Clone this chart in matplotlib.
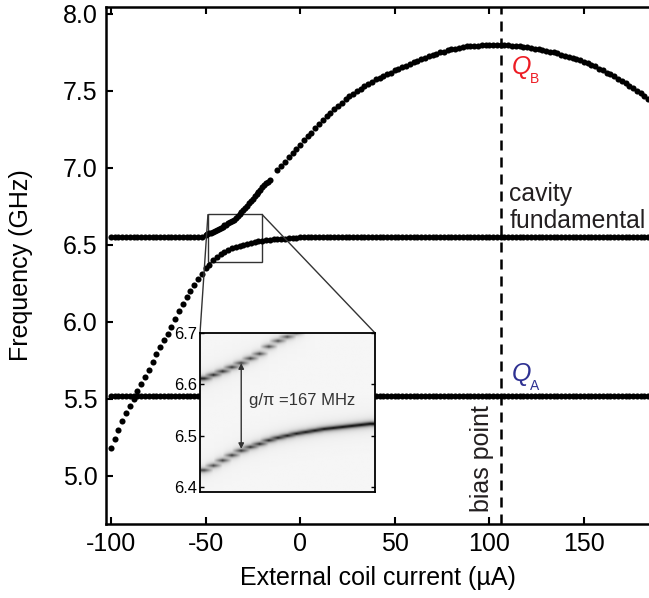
import numpy as np
import matplotlib
matplotlib.use('Agg')
import matplotlib.pyplot as plt
from mpl_toolkits.axes_grid1.inset_locator import mark_inset

plt.rcParams['font.family'] = ['Liberation Sans', 'DejaVu Sans']
plt.rcParams['axes.unicode_minus'] = False

# ---- data -------------------------------------------------------------
cavity_f = 6.55      # cavity fundamental (GHz)
qa_f = 5.52          # qubit A (GHz), flat over the sweep
bias_point = 106     # uA

# coil current sweep for qubit A, 2 uA steps
qa_x = np.arange(-100, 186, 2)

# lower branch: qubit B below the cavity, -100 .. -2 uA
lower_x = np.arange(-100, 0, 2)
lower_f = [5.18, 5.24, 5.30, 5.36, 5.41, 5.455, 5.50, 5.55, 5.60, 5.645,
           5.69, 5.74, 5.79, 5.84, 5.88, 5.925, 5.97, 6.02, 6.07, 6.12,
           6.16, 6.20, 6.24, 6.28, 6.31, 6.35, 6.37, 6.40, 6.42, 6.44,
           6.455, 6.468, 6.478, 6.488, 6.496, 6.503, 6.509, 6.514, 6.519, 6.523,
           6.527, 6.530, 6.533, 6.536, 6.538, 6.540, 6.542, 6.544, 6.546, 6.548]
# lower branch continues as the cavity from 0 uA on
lower_cav_x = np.arange(0, 186, 2)

# upper branch: cavity on the left side
upper_cav_x = np.arange(-100, -50, 2)
# upper branch through the anticrossing, 1 uA steps
upper_fine_x = np.arange(-50, -15, 1)
upper_fine_f = [6.565, 6.570, 6.575, 6.580, 6.587, 6.593, 6.600, 6.607, 6.613, 6.620,
                6.627, 6.633, 6.640, 6.648, 6.657, 6.665, 6.675, 6.688, 6.700, 6.713,
                6.727, 6.740, 6.755, 6.770, 6.785, 6.800, 6.815, 6.830, 6.845, 6.860,
                6.875, 6.888, 6.900, 6.912, 6.925]
# upper branch: qubit B above the cavity
upper_x = np.arange(-12, 186, 2)
upper_f = [6.985, 7.01, 7.04, 7.07, 7.10, 7.125, 7.15,
           7.18, 7.205, 7.23, 7.26, 7.285, 7.31, 7.335, 7.36, 7.38, 7.405,
           7.425, 7.445, 7.465, 7.48, 7.50, 7.515, 7.53, 7.545, 7.56, 7.575,
           7.585, 7.60, 7.61, 7.62, 7.635, 7.645, 7.655, 7.665, 7.675, 7.685,
           7.695, 7.705, 7.715, 7.725, 7.735, 7.74, 7.75, 7.755, 7.765, 7.77,
           7.775, 7.78, 7.785, 7.79, 7.79, 7.795, 7.795, 7.80, 7.80, 7.80,
           7.80, 7.80, 7.80, 7.80, 7.80, 7.795, 7.795, 7.79, 7.785, 7.785,
           7.78, 7.775, 7.77, 7.765, 7.76, 7.755, 7.75, 7.745, 7.735, 7.73,
           7.72, 7.715, 7.705, 7.70, 7.69, 7.68, 7.67, 7.66, 7.645, 7.635,
           7.62, 7.61, 7.595, 7.58, 7.565, 7.55, 7.535, 7.52, 7.50, 7.485,
           7.465, 7.45]

# transmission map around the anticrossing (one column per current step)
inset_x = np.arange(-48, -20, 1.5)
inset_upper = [6.610, 6.617, 6.624, 6.632, 6.640, 6.649, 6.658, 6.672, 6.683, 6.691,
               6.699, 6.712, 6.730, 6.750, 6.770, 6.790, 6.810, 6.840, 6.860]
inset_lower = [6.432, 6.441, 6.451, 6.461, 6.470, 6.477, 6.483, 6.490, 6.495, 6.499,
               6.503, 6.506, 6.509, 6.512, 6.514, 6.516, 6.518, 6.520, 6.522]
splitting = 0.167    # g/pi in GHz
arrow_x = -42
arrow_low = 6.474

yticks = [5.0, 5.5, 6.0, 6.5, 7.0, 7.5, 8.0]
xticks = [-100, -50, 0, 50, 100, 150]
inset_yticks = [6.4, 6.5, 6.6, 6.7]

# ---- figure -------------------------------------------------------------
fig = plt.figure(figsize=(6.49, 5.98), dpi=100)
ax = fig.add_axes([0.1633, 0.1237, 0.8367, 0.8645])

dot = dict(ls='none', marker='o', ms=4.4, color='k', mec='none')
ax.plot(qa_x, np.full(len(qa_x), qa_f), **dot)
ax.plot(lower_x, lower_f, **dot)
ax.plot(lower_cav_x, np.full(len(lower_cav_x), cavity_f), **dot)
ax.plot(upper_cav_x, np.full(len(upper_cav_x), cavity_f), **dot)
ax.plot(upper_fine_x, upper_fine_f, **dot)
ax.plot(upper_x, upper_f, **dot)

ax.axvline(bias_point, color='k', lw=1.8, dashes=(4, 2.8), zorder=1)

ax.set_xlim(-102.6, 184.4)
ax.set_ylim(4.688, 8.045)
ax.set_xticks(xticks)
ax.set_yticks(yticks)
ax.set_yticklabels(['%.1f' % v for v in yticks])
ax.tick_params(direction='in', length=5, width=1.5, top=True, right=False,
               labelsize=18, pad=6)
for side in ['left', 'bottom', 'top']:
    ax.spines[side].set_linewidth(1.8)
ax.spines['right'].set_visible(False)

ax.set_xlabel('External coil current (µA)', fontsize=18)
ax.set_ylabel('Frequency (GHz)', fontsize=18)
ax.xaxis.set_label_coords(0.5, -0.082)
ax.yaxis.set_label_coords(-0.135, 0.5)

# mode labels
ax.text(112, 7.656, 'Q', style='italic', fontsize=18, color='#ed1c24',
        ha='left', va='center')
ax.annotate('B', (112, 7.656), xytext=(13, -9), textcoords='offset points',
            fontsize=10, color='#ed1c24', ha='left', va='center')
ax.text(112, 5.663, 'Q', style='italic', fontsize=18, color='#2e3192',
        ha='left', va='center')
ax.annotate('A', (112, 5.663), xytext=(13, -9), textcoords='offset points',
            fontsize=10, color='#2e3192', ha='left', va='center')
ax.text(110.5, 6.745, 'cavity\nfundamental', fontsize=17.8, color='#231f20',
        ha='left', va='center', linespacing=1.15)
ax.text(96.2, 5.11, 'bias point', rotation=90, fontsize=18, color='#231f20',
        ha='center', va='center')

# ---- inset: spectroscopy of the anticrossing ----------------------------
axins = fig.add_axes([0.3082, 0.1773, 0.2696, 0.2659])
freq = np.linspace(6.38, 6.72, 500)
hw = 0.0035
spec = np.full((len(freq), len(inset_x)), 0.035)
for j in range(len(inset_x)):
    for f0 in (inset_upper[j], inset_lower[j]):
        w = 1.0 / (1.0 + ((f0 - cavity_f) / 0.08) ** 2)
        spec[:, j] += (0.5 + 0.5 * w) / (1.0 + ((freq - f0) / hw) ** 2)
step = inset_x[1] - inset_x[0]
axins.imshow(np.clip(spec, 0, 1), cmap='gray_r', vmin=0, vmax=1, origin='lower',
             aspect='auto', interpolation='bilinear',
             extent=[inset_x[0] - step / 2, inset_x[-1] + step / 2, freq[0], freq[-1]])
axins.set_xlim(-48.7, -20.25)
axins.set_ylim(6.39, 6.70)
axins.set_xticks([])
axins.set_yticks(inset_yticks)
axins.tick_params(direction='in', length=3, width=1, left=True, right=True,
                  labelsize=12, pad=2)
for s in axins.spines.values():
    s.set_linewidth(1.3)

axins.annotate('', xy=(arrow_x, arrow_low + splitting), xytext=(arrow_x, arrow_low),
               arrowprops=dict(arrowstyle='<|-|>', color='#333333', lw=1,
                               mutation_scale=8, shrinkA=0, shrinkB=0))
axins.text(-40.8, 6.569, 'g/π =%d MHz' % round(splitting * 1000), fontsize=12,
           color='#333333', ha='left', va='center')

mark_inset(ax, axins, loc1=2, loc2=1, fc='none', ec='#333333', lw=1)

fig.savefig('out.png', dpi=100)
